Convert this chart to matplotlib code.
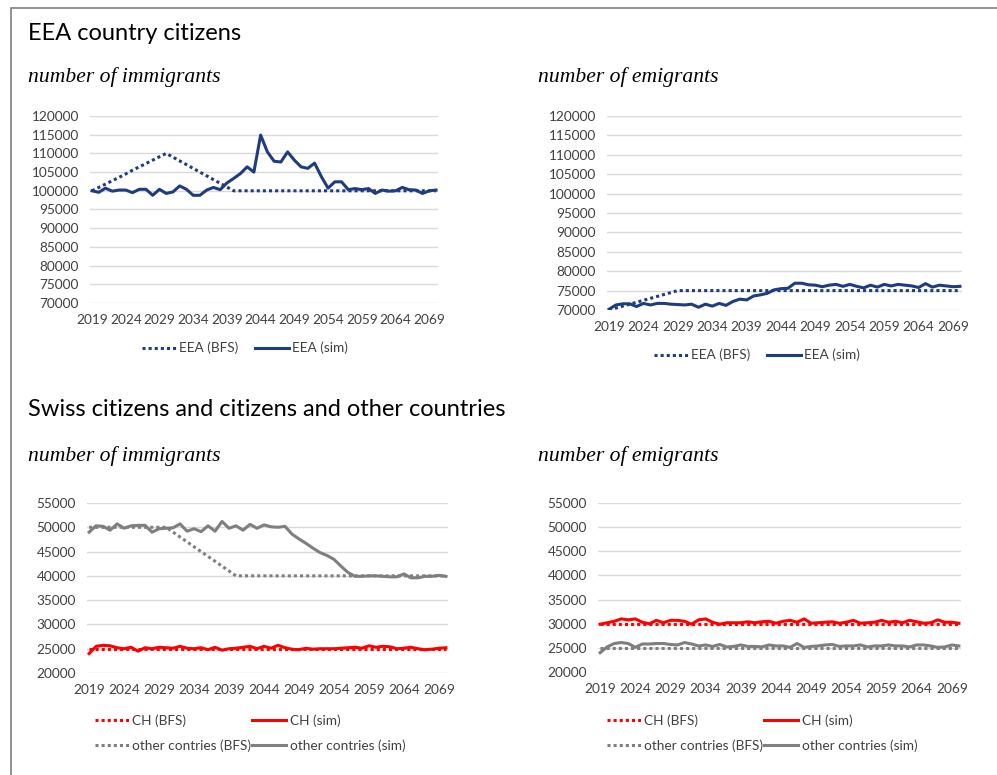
import numpy as np
import matplotlib.pyplot as plt
from matplotlib.patches import Rectangle

### Data, years 2019..2070
years = list(range(2019, 2071))

eea_imm_bfs = [100000, 100900, 101800, 102700, 103600, 104500, 105500, 106400, 107300, 108200,
               109100, 110000, 109000, 108000, 107000, 106000, 105000, 104000, 103000, 102000,
               101000, 100000, 100000, 100000, 100000, 100000, 100000, 100000, 100000, 100000,
               100000, 100000, 100000, 100000, 100000, 100000, 100000, 100000, 100000, 100000,
               100000, 100000, 100000, 100000, 100000, 100000, 100000, 100000, 100000, 100000,
               100000, 100000]
eea_imm_sim = [100000, 99600, 100700, 99900, 100200, 100200, 99500, 100400, 100400, 98800,
               100400, 99300, 99700, 101300, 100400, 98800, 98800, 100200, 100900, 100300,
               102100, 103300, 104600, 106400, 105000, 114900, 110400, 107900, 107700, 110400,
               108200, 106400, 106000, 107400, 103800, 100700, 102400, 102400, 100300, 100600,
               100300, 100600, 99300, 100200, 99900, 100000, 100900, 100300, 100200, 99300,
               100000, 100200]

eea_emi_bfs = [70000, 70500, 71000, 71500, 72000, 72500, 73000, 73500, 74000, 74500,
               75000, 75000, 75000, 75000, 75000, 75000, 75000, 75000, 75000, 75000,
               75000, 75000, 75000, 75000, 75000, 75000, 75000, 75000, 75000, 75000,
               75000, 75000, 75000, 75000, 75000, 75000, 75000, 75000, 75000, 75000,
               75000, 75000, 75000, 75000, 75000, 75000, 75000, 75000, 75000, 75000,
               75000, 75000]
eea_emi_sim = [70200, 71300, 71600, 71600, 70900, 71700, 71300, 71700, 71700, 71500,
               71400, 71300, 71500, 70700, 71500, 71000, 71700, 71200, 72200, 72800,
               72600, 73600, 73900, 74300, 75200, 75500, 75600, 76900, 76900, 76500,
               76400, 76000, 76400, 76600, 76100, 76600, 76100, 75700, 76400, 75900,
               76600, 76200, 76600, 76400, 76200, 75800, 76800, 75900, 76400, 76200,
               76000, 76100]

ch_imm_bfs = [25000] * 52
ch_imm_sim = [24000, 25500, 25700, 25600, 25200, 25000, 25300, 24500, 25200, 25000,
              25300, 25200, 25100, 25500, 25100, 25000, 25200, 24800, 25300, 24700,
              25000, 25100, 25300, 25500, 25000, 25500, 25100, 25700, 25200, 24900,
              24800, 25100, 24900, 25000, 25000, 25000, 25100, 25200, 25300, 25100,
              25600, 25300, 25500, 25400, 25000, 25100, 25300, 25000, 24800, 24900,
              25100, 25200]
oth_imm_bfs = [50000, 50000, 50000, 50000, 50000, 50000, 50000, 50000, 50000, 50000,
               50000, 50000, 49000, 48000, 47000, 46000, 45000, 44000, 43000, 42000,
               41000, 40000, 40000, 40000, 40000, 40000, 40000, 40000, 40000, 40000,
               40000, 40000, 40000, 40000, 40000, 40000, 40000, 40000, 40000, 40000,
               40000, 40000, 40000, 40000, 40000, 40000, 40000, 40000, 40000, 40000,
               40000, 40000]
oth_imm_sim = [49000, 50300, 50200, 49400, 50700, 49800, 50300, 50400, 50400, 49000,
               49700, 49800, 49900, 50700, 49200, 49700, 49100, 50300, 49200, 51200,
               49800, 50300, 49400, 50600, 49800, 50500, 50100, 50000, 50200, 48600,
               47600, 46700, 45700, 44800, 44200, 43400, 42000, 40700, 39900, 39900,
               40000, 40000, 39900, 39800, 39800, 40400, 39600, 39600, 39900, 39900,
               40100, 39900]

ch_emi_bfs = [30000] * 52
ch_emi_sim = [29900, 30200, 30500, 31000, 30800, 31000, 30300, 30000, 30700, 30200,
              30700, 30700, 30500, 29900, 30800, 31000, 30300, 29900, 30200, 30200,
              30200, 30400, 30200, 30400, 30500, 30100, 30500, 30700, 30300, 31000,
              30100, 30200, 30300, 30400, 30100, 30300, 30700, 30100, 30200, 30300,
              30700, 30300, 30500, 30200, 30700, 30400, 30100, 30200, 30800, 30300,
              30300, 30100]
oth_emi_bfs = [25000] * 52
oth_emi_sim = [24000, 25200, 25900, 26100, 25900, 25100, 25800, 25800, 25900, 25900,
               25700, 25600, 26100, 25800, 25400, 25600, 25300, 25700, 25200, 25300,
               25600, 25300, 25300, 25200, 25600, 25400, 25400, 25100, 25900, 25100,
               25300, 25400, 25600, 25700, 25300, 25400, 25400, 25600, 25200, 25400,
               25400, 25600, 25400, 25400, 25200, 25600, 25600, 25400, 25100, 25200,
               25600, 25400]

xtick_years = list(range(2019, 2070, 5))

### Styles
navy = '#1F3C80'
red = '#FF0000'
grey = '#7F7F7F'
dot = (0, (1, 1))
lw = 2.2
fs = 9.8
W, H = 997, 775

plt.rcParams['font.family'] = ['Lato', 'DejaVu Sans']
fig = plt.figure(figsize=(W / 100, H / 100), dpi=100)

def px_axes(x0, y0, x1, y1):
    return fig.add_axes([x0 / W, 1 - y1 / H, (x1 - x0) / W, (y1 - y0) / H])

def style(ax, ymin, ymax):
    ax.set_xlim(2018.7, 2070.3)
    ax.set_ylim(ymin, ymax)
    ax.set_yticks(range(ymin, ymax + 1, 5000))
    ax.set_xticks(xtick_years)
    ax.grid(axis='y', color='#D9D9D9', lw=1)
    ax.set_axisbelow(True)
    for s in ax.spines.values():
        s.set_visible(False)
    ax.tick_params(length=0, labelsize=fs, labelcolor='#404040', pad=8)

def legend(handles, labels, cx, cy, colsp):
    fig.legend(handles, labels, loc='center', bbox_to_anchor=(cx / W, 1 - cy / H),
               ncol=2, frameon=False, fontsize=fs, handlelength=2.5,
               handletextpad=0.25, columnspacing=colsp, labelspacing=0.9,
               labelcolor='#404040')

### Top left: EEA immigrants
ax1 = px_axes(90, 116, 438, 303)
style(ax1, 70000, 120000)
a, = ax1.plot(years, eea_imm_bfs, color=navy, lw=lw, ls=dot)
b, = ax1.plot(years, eea_imm_sim, color=navy, lw=lw)
legend([a, b], ['EEA (BFS)', 'EEA (sim)'], 245, 348, 1.2)

### Top right: EEA emigrants
ax2 = px_axes(607, 116, 962, 310)
style(ax2, 70000, 120000)
a, = ax2.plot(years, eea_emi_bfs, color=navy, lw=lw, ls=dot)
b, = ax2.plot(years, eea_emi_sim, color=navy, lw=lw)
legend([a, b], ['EEA (BFS)', 'EEA (sim)'], 757, 355, 1.2)

### Bottom left: CH / other immigrants
ax3 = px_axes(87, 503, 448, 673)
style(ax3, 20000, 55000)
a, = ax3.plot(years, ch_imm_bfs, color=red, lw=lw, ls=dot)
b, = ax3.plot(years, ch_imm_sim, color=red, lw=lw)
c, = ax3.plot(years, oth_imm_bfs, color=grey, lw=lw, ls=dot)
d, = ax3.plot(years, oth_imm_sim, color=grey, lw=lw)
legend([a, c, b, d], ['CH (BFS)', 'other contries (BFS)', 'CH (sim)', 'other contries (sim)'],
       250, 733, 0.1)

### Bottom right: CH / other emigrants
ax4 = px_axes(598, 503, 961, 672)
style(ax4, 20000, 55000)
a, = ax4.plot(years, ch_emi_bfs, color=red, lw=lw, ls=dot)
b, = ax4.plot(years, ch_emi_sim, color=red, lw=lw)
c, = ax4.plot(years, oth_emi_bfs, color=grey, lw=lw, ls=dot)
d, = ax4.plot(years, oth_emi_sim, color=grey, lw=lw)
legend([a, c, b, d], ['CH (BFS)', 'other contries (BFS)', 'CH (sim)', 'other contries (sim)'],
       762, 733, 0.1)

### Headings
def head(x, y, s, **kw):
    fig.text(x / W, 1 - y / H, s, va='center', ha='left', **kw)

head(28, 33, 'EEA country citizens', fontsize=17)
head(28, 410, 'Swiss citizens and citizens and other countries', fontsize=17)
serif = dict(family='Liberation Serif', style='italic', fontsize=15.6)
head(28, 77, 'number of immigrants', **serif)
head(538, 77, 'number of emigrants', **serif)
head(28, 456, 'number of immigrants', **serif)
head(538, 456, 'number of emigrants', **serif)

### Frame
fig.patches.append(Rectangle((11 / W, -0.05), 1.1, 1 - 8 / H + 0.05, transform=fig.transFigure,
                             fill=False, edgecolor='#7F7F7F', lw=1.2))

plt.savefig('out.png', dpi=100)
